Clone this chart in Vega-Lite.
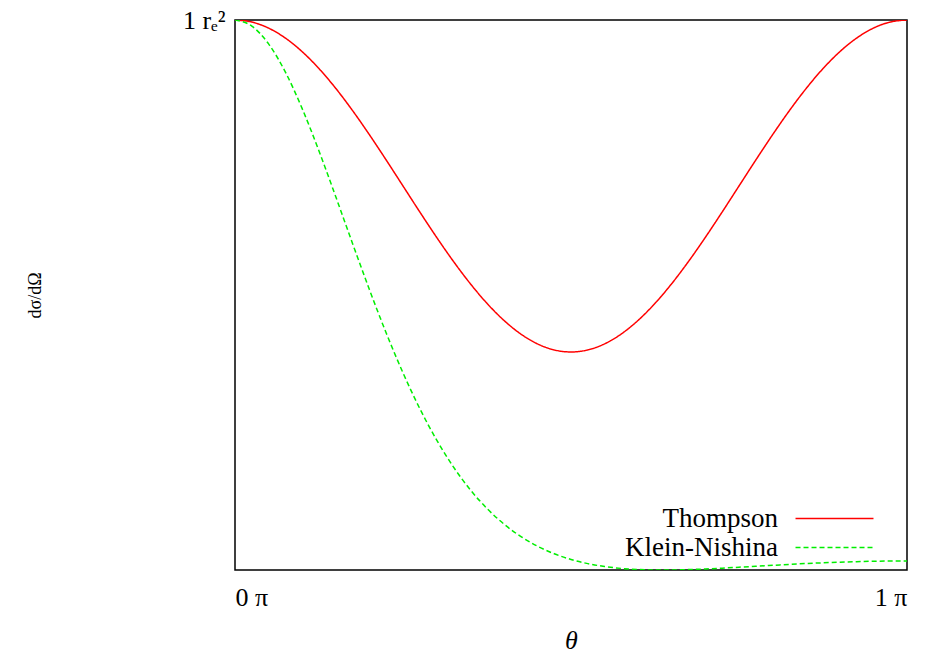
{
  "$schema": "https://vega.github.io/schema/vega-lite/v6.json",
  "autosize": "none",
  "padding": {"left": 235, "top": 20, "right": 20, "bottom": 83},
  "width": 672,
  "height": 550,
  "background": "white",
  "config": {
    "view": {"stroke": "black", "strokeWidth": 1.5},
    "font": "Liberation Serif"
  },
  "data": {
    "values": [
      {"t": 0, "v": 1, "s": "Thompson"},
      {"t": 0.025, "v": 0.99692, "s": "Thompson"},
      {"t": 0.05, "v": 0.98776, "s": "Thompson"},
      {"t": 0.075, "v": 0.97275, "s": "Thompson"},
      {"t": 0.1, "v": 0.95225, "s": "Thompson"},
      {"t": 0.125, "v": 0.92678, "s": "Thompson"},
      {"t": 0.15, "v": 0.89695, "s": "Thompson"},
      {"t": 0.175, "v": 0.8635, "s": "Thompson"},
      {"t": 0.2, "v": 0.82725, "s": "Thompson"},
      {"t": 0.225, "v": 0.78911, "s": "Thompson"},
      {"t": 0.25, "v": 0.75, "s": "Thompson"},
      {"t": 0.275, "v": 0.71089, "s": "Thompson"},
      {"t": 0.3, "v": 0.67275, "s": "Thompson"},
      {"t": 0.325, "v": 0.6365, "s": "Thompson"},
      {"t": 0.35, "v": 0.60305, "s": "Thompson"},
      {"t": 0.375, "v": 0.57322, "s": "Thompson"},
      {"t": 0.4, "v": 0.54775, "s": "Thompson"},
      {"t": 0.425, "v": 0.52725, "s": "Thompson"},
      {"t": 0.45, "v": 0.51224, "s": "Thompson"},
      {"t": 0.475, "v": 0.50308, "s": "Thompson"},
      {"t": 0.5, "v": 0.5, "s": "Thompson"},
      {"t": 0.525, "v": 0.50308, "s": "Thompson"},
      {"t": 0.55, "v": 0.51224, "s": "Thompson"},
      {"t": 0.575, "v": 0.52725, "s": "Thompson"},
      {"t": 0.6, "v": 0.54775, "s": "Thompson"},
      {"t": 0.625, "v": 0.57322, "s": "Thompson"},
      {"t": 0.65, "v": 0.60305, "s": "Thompson"},
      {"t": 0.675, "v": 0.6365, "s": "Thompson"},
      {"t": 0.7, "v": 0.67275, "s": "Thompson"},
      {"t": 0.725, "v": 0.71089, "s": "Thompson"},
      {"t": 0.75, "v": 0.75, "s": "Thompson"},
      {"t": 0.775, "v": 0.78911, "s": "Thompson"},
      {"t": 0.8, "v": 0.82725, "s": "Thompson"},
      {"t": 0.825, "v": 0.8635, "s": "Thompson"},
      {"t": 0.85, "v": 0.89695, "s": "Thompson"},
      {"t": 0.875, "v": 0.92678, "s": "Thompson"},
      {"t": 0.9, "v": 0.95225, "s": "Thompson"},
      {"t": 0.925, "v": 0.97275, "s": "Thompson"},
      {"t": 0.95, "v": 0.98776, "s": "Thompson"},
      {"t": 0.975, "v": 0.99692, "s": "Thompson"},
      {"t": 1, "v": 1, "s": "Thompson"},
      {"t": 0, "v": 1, "s": "Klein-Nishina"},
      {"t": 0.025, "v": 0.99082, "s": "Klein-Nishina"},
      {"t": 0.05, "v": 0.96396, "s": "Klein-Nishina"},
      {"t": 0.075, "v": 0.9215, "s": "Klein-Nishina"},
      {"t": 0.1, "v": 0.8665, "s": "Klein-Nishina"},
      {"t": 0.125, "v": 0.80262, "s": "Klein-Nishina"},
      {"t": 0.15, "v": 0.73366, "s": "Klein-Nishina"},
      {"t": 0.175, "v": 0.66313, "s": "Klein-Nishina"},
      {"t": 0.2, "v": 0.59401, "s": "Klein-Nishina"},
      {"t": 0.225, "v": 0.52862, "s": "Klein-Nishina"},
      {"t": 0.25, "v": 0.46853, "s": "Klein-Nishina"},
      {"t": 0.275, "v": 0.41469, "s": "Klein-Nishina"},
      {"t": 0.3, "v": 0.3675, "s": "Klein-Nishina"},
      {"t": 0.325, "v": 0.32692, "s": "Klein-Nishina"},
      {"t": 0.35, "v": 0.29266, "s": "Klein-Nishina"},
      {"t": 0.375, "v": 0.26419, "s": "Klein-Nishina"},
      {"t": 0.4, "v": 0.24093, "s": "Klein-Nishina"},
      {"t": 0.425, "v": 0.22225, "s": "Klein-Nishina"},
      {"t": 0.45, "v": 0.2075, "s": "Klein-Nishina"},
      {"t": 0.475, "v": 0.1961, "s": "Klein-Nishina"},
      {"t": 0.5, "v": 0.1875, "s": "Klein-Nishina"},
      {"t": 0.525, "v": 0.18122, "s": "Klein-Nishina"},
      {"t": 0.55, "v": 0.17684, "s": "Klein-Nishina"},
      {"t": 0.575, "v": 0.17398, "s": "Klein-Nishina"},
      {"t": 0.6, "v": 0.17233, "s": "Klein-Nishina"},
      {"t": 0.625, "v": 0.17164, "s": "Klein-Nishina"},
      {"t": 0.65, "v": 0.17167, "s": "Klein-Nishina"},
      {"t": 0.675, "v": 0.17224, "s": "Klein-Nishina"},
      {"t": 0.7, "v": 0.1732, "s": "Klein-Nishina"},
      {"t": 0.725, "v": 0.17442, "s": "Klein-Nishina"},
      {"t": 0.75, "v": 0.17579, "s": "Klein-Nishina"},
      {"t": 0.775, "v": 0.17723, "s": "Klein-Nishina"},
      {"t": 0.8, "v": 0.17867, "s": "Klein-Nishina"},
      {"t": 0.825, "v": 0.18004, "s": "Klein-Nishina"},
      {"t": 0.85, "v": 0.18132, "s": "Klein-Nishina"},
      {"t": 0.875, "v": 0.18245, "s": "Klein-Nishina"},
      {"t": 0.9, "v": 0.1834, "s": "Klein-Nishina"},
      {"t": 0.925, "v": 0.18417, "s": "Klein-Nishina"},
      {"t": 0.95, "v": 0.18474, "s": "Klein-Nishina"},
      {"t": 0.975, "v": 0.18508, "s": "Klein-Nishina"},
      {"t": 1, "v": 0.18519, "s": "Klein-Nishina"}
    ]
  },
  "mark": {"type": "line", "interpolate": "monotone", "strokeWidth": 1.5, "clip": true},
  "encoding": {
    "x": {
      "field": "t", "type": "quantitative",
      "scale": {"domain": [0, 1], "nice": false, "zero": false},
      "axis": {
        "values": [0, 1], "labelExpr": "datum.value + ' π'",
        "ticks": false, "domain": false, "grid": false,
        "labelFontSize": 26, "labelPadding": 14, "labelColor": "black",
        "labelFont": "Liberation Serif",
        "title": "θ", "titleFontSize": 26, "titleFontStyle": "italic", "titleFontWeight": "normal",
        "titleFont": "Liberation Serif", "titleColor": "black",
        "titleX": 336, "titleY": 70, "titleBaseline": "middle"
      }
    },
    "y": {
      "field": "v", "type": "quantitative",
      "scale": {"domain": [0.1716, 1], "nice": false, "zero": false},
      "axis": {
        "values": [1], "labelExpr": "'1 rₑ²'",
        "ticks": false, "domain": false, "grid": false,
        "labelFontSize": 26, "labelPadding": 10, "labelColor": "black",
        "labelFont": "Liberation Serif", "labelBaseline": "middle",
        "title": "dσ/dΩ", "titleFontSize": 18, "titleFontWeight": "normal",
        "titleFont": "Liberation Serif", "titleColor": "black",
        "titleX": -200, "titleY": 275, "titleAngle": -90, "titleAlign": "center", "titleBaseline": "middle"
      }
    },
    "color": {
      "field": "s", "type": "nominal",
      "scale": {"domain": ["Thompson", "Klein-Nishina"], "range": ["#ff0000", "#00ee00"]},
      "legend": {
        "title": null, "orient": "none", "legendX": 586, "legendY": 485,
        "symbolType": "M-4,0H4", "symbolSize": 380, "symbolStrokeWidth": 1.5,
        "labelAlign": "right", "labelOffset": -70, "labelFontSize": 27,
        "labelFont": "Liberation Serif", "labelColor": "black", "rowPadding": 1,
        "labelLimit": 400
      }
    },
    "strokeDash": {
      "field": "s", "type": "nominal",
      "scale": {"domain": ["Thompson", "Klein-Nishina"], "range": [[1, 0], [5, 3]]},
      "legend": null
    }
  }
}
